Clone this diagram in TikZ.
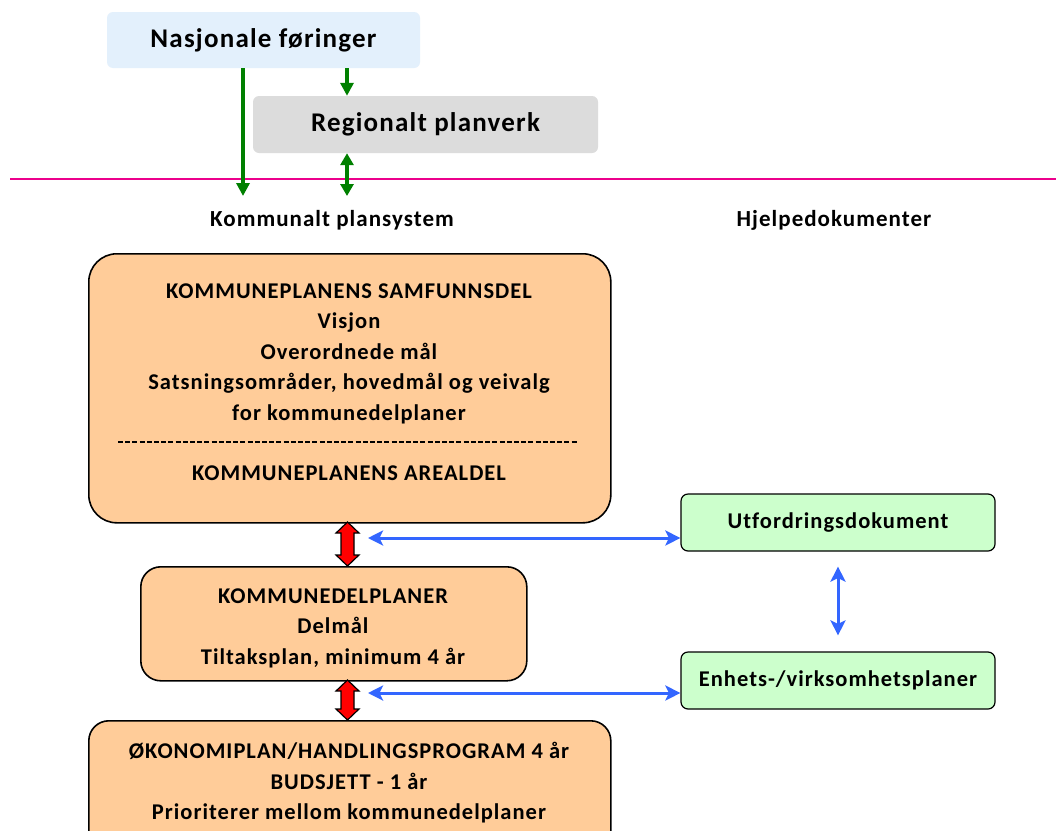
\documentclass[tikz,border=0pt]{standalone}
\usepackage{fontspec}
\setmainfont{Carlito}[LetterSpace=4.5, Ligatures=CommonOff]
\usetikzlibrary{arrows.meta}
\definecolor{peach}{RGB}{255,204,153}
\definecolor{lblue}{RGB}{227,240,252}
\definecolor{lgray}{RGB}{220,220,220}
\definecolor{lgreen}{RGB}{204,255,204}
\definecolor{arrblue}{RGB}{51,102,255}
\definecolor{dgreen}{RGB}{0,128,0}
\tikzset{
  topbox/.style={rounded corners=6pt, inner sep=0pt, font=\bfseries\fontsize{27}{30}\selectfont},
  planbox/.style={draw=black, line width=1.6pt, fill=peach, inner sep=0pt},
  plantext/.style={align=center, font=\bfseries\fontsize{22.5}{30.5}\selectfont},
  helpbox/.style={draw=black, line width=1.2pt, fill=lgreen, rounded corners=7pt, inner sep=0pt, font=\bfseries\fontsize{22.5}{26}\selectfont},
  hdr/.style={font=\bfseries\fontsize{23}{26}\selectfont},
  greenarr/.style={draw=dgreen, line width=3.5pt, -{Triangle[length=13pt,width=13pt]}},
  greendbl/.style={draw=dgreen, line width=3.5pt, {Triangle[length=12pt,width=13pt]}-{Triangle[length=12pt,width=13pt]}},
  bluedbl/.style={draw=arrblue, line width=3pt, {Stealth[length=15pt,width=15pt,inset=3.5pt]}-{Stealth[length=15pt,width=15pt,inset=3.5pt]}},
  redarr/.style={draw=black, line width=1.2pt, fill=red, line join=miter}
}
\begin{document}
\begin{tikzpicture}[x=1pt,y=-1pt]
\clip (0,0) rectangle (1056,830);
\fill[white] (0,0) rectangle (1056,830);

% top boxes
\node[topbox, fill=lblue, minimum width=313pt, minimum height=56pt] (nas) at (263.5,40) {Nasjonale føringer};
\node[topbox, fill=lgray, minimum width=345pt, minimum height=57pt] (reg) at (425.5,124.5) {Regionalt planverk};

% magenta line
\draw[magenta, line width=1.5pt] (10,179) -- (1056,179);

\coordinate (g1) at (243,196);
\coordinate (g2) at (347,196);
\draw[greenarr] (nas.south -| g1) -- (g1);
\draw[greenarr] (nas.south -| g2) -- (reg.north -| g2);
\draw[greendbl] (reg.south -| g2) -- (g2);

% headers
\node[hdr] (kp) at (332,220) {Kommunalt plansystem};
\node[hdr] (hd) at (834,220) {Hjelpedokumenter};

% big box
\node[planbox, rounded corners=28pt, minimum width=522pt, minimum height=269pt, anchor=north west] (ks) at (88,253) {};
\node[plantext] (kst) at (349,353.5)
 {KOMMUNEPLANENS SAMFUNNSDEL\\ Visjon\\ Overordnede mål\\ Satsningsområder, hovedmål og veivalg\\ for kommunedelplaner};
\draw[line width=1.2pt, dash pattern=on 5pt off 2.2pt] (118,442) -- (578,442);
\node[plantext] (ka) at (349,473) {KOMMUNEPLANENS AREALDEL};

% kommunedelplaner
\node[planbox, rounded corners=20pt, minimum width=386pt, minimum height=114pt, anchor=north west] (kd) at (140,566) {};
\node[plantext] (kdt) at (333,628)
 {KOMMUNEDELPLANER\\ Delmål\\ Tiltaksplan, minimum 4 år};

% okonomiplan
\node[planbox, rounded corners=20pt, minimum width=522pt, minimum height=140pt, anchor=north west] (ok) at (88,720) {};
\node[plantext] (okt) at (349,783)
 {ØKONOMIPLAN/HANDLINGSPROGRAM 4 år\\ BUDSJETT - 1 år\\ Prioriterer mellom kommunedelplaner};

% help boxes
\node[helpbox, minimum width=314pt, minimum height=57pt] (ut) at (838,522.5) {Utfordringsdokument};
\node[helpbox, minimum width=314pt, minimum height=57pt] (en) at (838,680.5) {Enhets-/virksomhetsplaner};

% red double arrows
\foreach \ya/\yb in {522/566, 680/720}{
  \pgfmathsetmacro{\ha}{\ya+11}
  \pgfmathsetmacro{\hb}{\yb-11}
  \draw[redarr] (347.5,\ya) -- (359,\ha) -- (354,\ha) -- (354,\hb) -- (359,\hb) -- (347.5,\yb) -- (336,\hb) -- (341,\hb) -- (341,\ha) -- (336,\ha) -- cycle;
}

% blue arrows
\coordinate (b1) at (368,538);
\coordinate (b2) at (368,693);
\draw[bluedbl] (b1) -- (ut.west |- b1);
\draw[bluedbl] (b2) -- (en.west |- b2);
\draw[bluedbl] ([yshift=-15pt]ut.south) -- ([yshift=16pt]en.north);
\end{tikzpicture}
\end{document}
